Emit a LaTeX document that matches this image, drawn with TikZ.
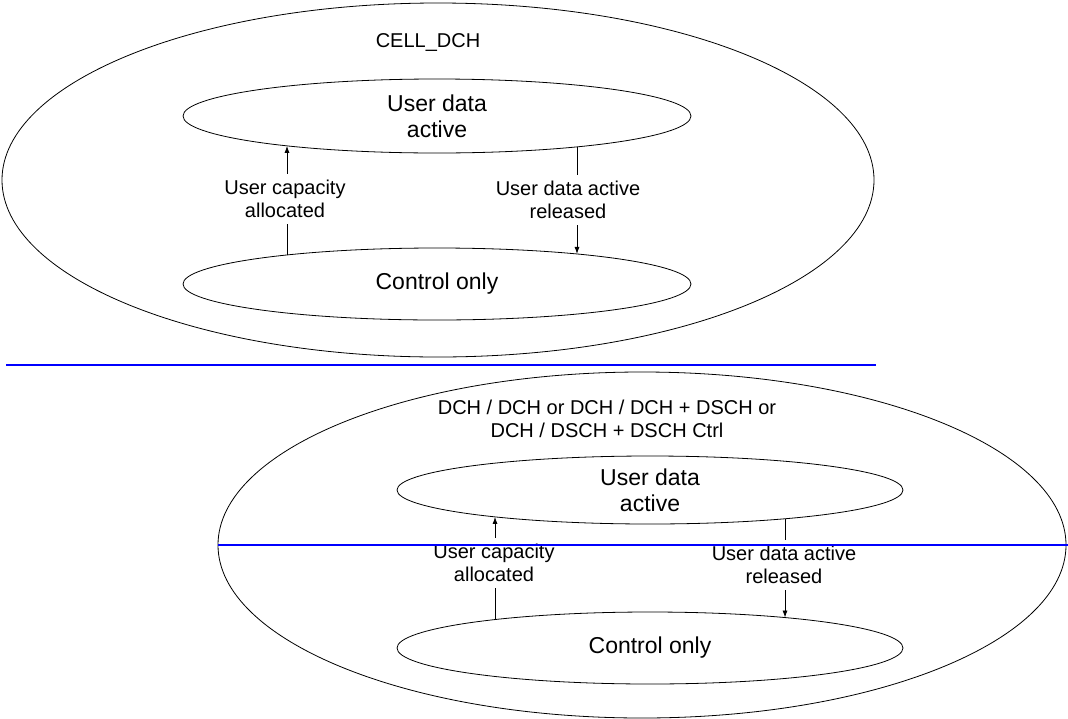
\documentclass[tikz,border=0pt]{standalone}
\usepackage{fontspec}
\setmainfont{Liberation Sans}
\usetikzlibrary{shapes.geometric,arrows.meta,intersections}
\begin{document}
\begin{tikzpicture}[x=1pt,y=-1pt,
  stateell/.style={draw, ellipse, inner sep=0pt, line width=0.8pt, font=\fontsize{23}{26}\selectfont, align=center},
  outerell/.style={draw, ellipse, inner sep=0pt, line width=0.8pt},
  lbl/.style={font=\fontsize{20}{23}\selectfont, align=center, inner xsep=0pt, inner ysep=6pt},
  hdr/.style={font=\fontsize{20}{23}\selectfont, align=center, inner sep=0pt},
  sepline/.style={draw=blue, line width=1.5pt},
  trans/.style={line width=0.8pt},
  transarr/.style={trans, -{Latex[length=7pt,width=5pt]}}]
\useasboundingbox (0,0) rectangle (1068,718);

% ---------- top: CELL_DCH ----------
\node[outerell, minimum width=872pt, minimum height=354pt] (cellA) at (438,180) {};
\node[hdr] (hA) at (428,43) {CELL\_DCH};
\node[stateell, minimum width=508pt, minimum height=74pt, name path=udaA] (udaA) at (437,116) {User data\\active};
\node[stateell, minimum width=508pt, minimum height=72pt, name path=ctlA] (ctlA) at (437,284) {Control only};
\node[lbl] (lA1) at (285,199) {User capacity\\allocated};
\node[lbl] (lA2) at (568,200) {User data active\\released};

\path[name path=vA1] (287,200) -- (287,112);
\path[name path=wA1] (287,200) -- (287,290);
\path[name path=vA2] (577,200) -- (577,112);
\path[name path=wA2] (577,200) -- (577,290);
\path[name intersections={of=vA1 and udaA, by={pA1}}];
\path[name intersections={of=wA1 and ctlA, by={qA1}}];
\path[name intersections={of=vA2 and udaA, by={pA2}}];
\path[name intersections={of=wA2 and ctlA, by={qA2}}];
\draw[trans] (qA1) -- (lA1.south -| qA1);
\draw[transarr] (lA1.north -| pA1) -- (pA1);
\draw[trans] (pA2) -- (lA2.north -| pA2);
\draw[transarr] (lA2.south -| qA2) -- (qA2);

\coordinate (sA1) at (6,365);
\coordinate (sA2) at (876,365);
\draw[sepline] (sA1) -- (sA2);

% ---------- bottom: DCH ----------
\node[outerell, minimum width=848pt, minimum height=346pt] (cellB) at (642,545) {};
\node[hdr] (hB) at (607,419) {DCH / DCH or DCH / DCH + DSCH or\\DCH / DSCH + DSCH Ctrl};
\node[stateell, minimum width=506pt, minimum height=68pt, name path=udaB] (udaB) at (650,490) {User data\\active};
\node[stateell, minimum width=506pt, minimum height=72pt, name path=ctlB] (ctlB) at (650,648) {Control only};
\node[lbl] (lB1) at (494,563) {User capacity\\allocated};
\node[lbl] (lB2) at (784,565) {User data active\\released};

\path[name path=vB1] (495,563) -- (495,490);
\path[name path=wB1] (495,563) -- (495,650);
\path[name path=vB2] (785,565) -- (785,490);
\path[name path=wB2] (785,565) -- (785,650);
\path[name intersections={of=vB1 and udaB, by={pB1}}];
\path[name intersections={of=wB1 and ctlB, by={qB1}}];
\path[name intersections={of=vB2 and udaB, by={pB2}}];
\path[name intersections={of=wB2 and ctlB, by={qB2}}];
\draw[trans] (qB1) -- (lB1.south -| qB1);
\draw[transarr] (lB1.north -| pB1) -- (pB1);
\draw[trans] (pB2) -- (lB2.north -| pB2);
\draw[transarr] (lB2.south -| qB2) -- (qB2);

\coordinate (sB1) at (218,545);
\coordinate (sB2) at (1068,545);
\draw[sepline] (sB1) -- (sB2);
\end{tikzpicture}
\end{document}
